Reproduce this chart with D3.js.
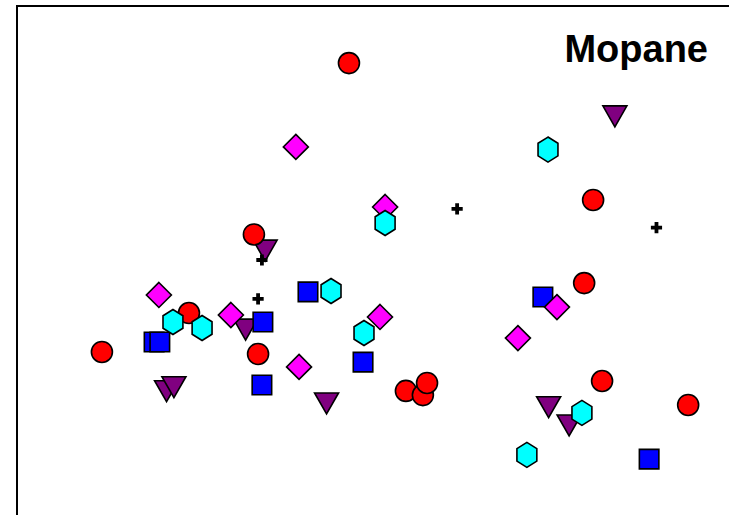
<!DOCTYPE html>
<html>
<head>
<meta charset="utf-8">
<script src="https://cdn.jsdelivr.net/npm/d3@7"></script>
<style>
  html, body { margin: 0; padding: 0; background: #fff; overflow: hidden; }
  svg { display: block; }
</style>
</head>
<body>
<script>
// Ordination scores (axis 1, axis 2) by group
const title = "Mopane";

const circlesX = [-0.097, 0.666, -0.394, 0.638, -0.597, -0.869, -0.381, 0.081, 0.134, 0.147, 0.694, 0.963];
const circlesY = [0.895, 0.273, 0.116, -0.105, -0.241, -0.418, -0.427, -0.595, -0.614, -0.559, -0.550, -0.659];

const squaresX = [-0.225, -0.366, -0.706, -0.688, -0.369, -0.053, 0.509, 0.841];
const squaresY = [-0.145, -0.282, -0.373, -0.373, -0.568, -0.464, -0.168, -0.905];

const diamondsX = [-0.263, 0.016, -0.691, -0.466, 0.000, 0.553, 0.431, -0.253];
const diamondsY = [0.514, 0.241, -0.159, -0.250, -0.259, -0.214, -0.355, -0.486];

const hexagonsX = [0.525, 0.016, -0.153, -0.647, -0.556, -0.050, 0.631, 0.459];
const hexagonsY = [0.502, 0.168, -0.141, -0.282, -0.309, -0.332, -0.695, -0.886];

const trianglesX = [0.734, -0.359, -0.420, -0.667, -0.644, -0.167, 0.527, 0.591];
const trianglesY = [0.655, 0.045, -0.314, -0.594, -0.576, -0.650, -0.667, -0.750];

const plusX = [0.241, 0.864, -0.369, -0.381];
const plusY = [0.232, 0.147, 0.000, -0.177];

const W = 729, H = 515;
const svg = d3.select("body").append("svg").attr("width", W).attr("height", H);

const x = d3.scaleLinear().domain([-1, 1]).range([60, 700]);
const y = d3.scaleLinear().domain([-1, 1]).range([480, 40]);

// frame: only the left and top edges fall inside the picture
svg.append("path")
  .attr("d", `M17,${H + 5}V6H${W + 5}`)
  .attr("fill", "none").attr("stroke", "#000").attr("stroke-width", 2);

svg.append("text")
  .attr("x", 708).attr("y", 62)
  .attr("text-anchor", "end")
  .attr("font-family", "Liberation Sans, Arial, sans-serif")
  .attr("font-weight", "bold")
  .attr("font-size", 38)
  .text(title);

const pts = (xs, ys) => xs.map((v, i) => ({ x: v, y: ys[i] }));

const shapes = {
  triangle: "M-12,-10L12,-10L0,11Z",
  square: "M-9.75,-9.75H9.75V9.75H-9.75Z",
  diamond: "M0,-12.5L12.5,0L0,12.5L-12.5,0Z",
  hexagon: (() => {
    const a = [];
    for (let k = 0; k < 6; k++) {
      const t = Math.PI / 2 + k * Math.PI / 3;
      a.push([11.5 * Math.cos(t), -12.5 * Math.sin(t)]);
    }
    return "M" + a.map(p => p[0].toFixed(2) + "," + p[1].toFixed(2)).join("L") + "Z";
  })(),
  plus: "M-1.9,-5.6H1.9V-1.9H5.6V1.9H1.9V5.6H-1.9V1.9H-5.6V-1.9H-1.9Z"
};

function drawPaths(data, d, fill, stroke, sw) {
  svg.append("g").selectAll("path").data(data).join("path")
    .attr("transform", p => `translate(${x(p.x)},${y(p.y)})`)
    .attr("d", d)
    .attr("fill", fill)
    .attr("stroke", stroke)
    .attr("stroke-width", sw)
    .attr("stroke-linejoin", "miter");
}

drawPaths(pts(trianglesX, trianglesY), shapes.triangle, "#800080", "#000", 1.6);

svg.append("g").selectAll("circle").data(pts(circlesX, circlesY)).join("circle")
  .attr("cx", p => x(p.x)).attr("cy", p => y(p.y)).attr("r", 10.5)
  .attr("fill", "#ff0000").attr("stroke", "#000").attr("stroke-width", 1.6);

drawPaths(pts(squaresX, squaresY), shapes.square, "#0000ff", "#000", 1.6);
drawPaths(pts(diamondsX, diamondsY), shapes.diamond, "#ff00ff", "#000", 1.6);
drawPaths(pts(hexagonsX, hexagonsY), shapes.hexagon, "#00ffff", "#000", 1.6);
drawPaths(pts(plusX, plusY), shapes.plus, "#000", "none", 0);
</script>
</body>
</html>
